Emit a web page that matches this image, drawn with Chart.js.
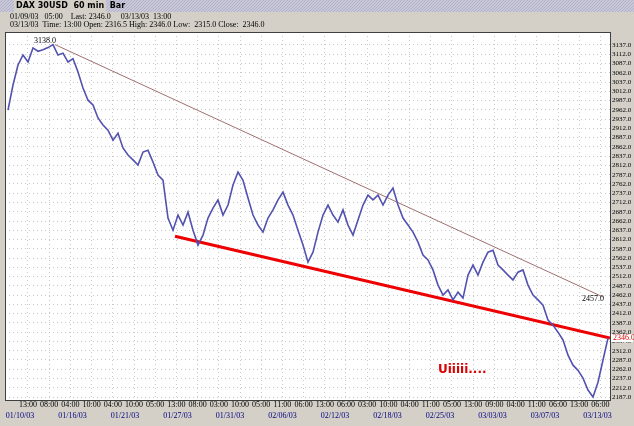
<!DOCTYPE html>
<html>
<head>
<meta charset="utf-8">
<script src="https://cdn.jsdelivr.net/npm/chart.js@4/dist/chart.umd.min.js"></script>
<style>
  body { margin:0; background:#d4d0c8; }
  #wrap { position:relative; width:634px; height:426px; }
</style>
</head>
<body>
<div id="wrap"><canvas id="c" width="634" height="426"></canvas></div>
<script>
// hourly closes, one every ~5 bars
var prices = [2961,3029,3083,3110,3091,3129,3120,3124,3130,3138,3110,3115,3091,3100,3064,3021,2988,2975,2940,2921,
  2907,2880,2899,2859,2840,2827,2813,2848,2853,2821,2786,2772,2670,2637,2678,2651,2686,2637,2597,2624,
  2670,2697,2719,2678,2705,2759,2794,2772,2724,2678,2651,2632,2670,2692,2719,2740,2705,2678,2637,2597,
  2551,2578,2632,2678,2705,2678,2659,2692,2651,2624,2665,2705,2732,2719,2732,2705,2732,2751,2705,2670,
  2651,2632,2605,2570,2557,2530,2489,2462,2476,2449,2470,2454,2516,2543,2516,2551,2578,2583,2543,2530,
  2516,2503,2524,2530,2489,2462,2449,2435,2395,2381,2362,2341,2300,2273,2259,2238,2206,2187,2227,2287,2346];
var upperTrend = [[9.4, 3138], [119, 2457]];
var lowerTrend = [[33.4, 2621], [120.4, 2346]];
var yTicks = [];
for (var v = 2187; v <= 3137; v += 25) yTicks.push(v);
var timeLabels = ['13:00','08:00','04:00','10:00','04:00','10:00','05:00','13:00','08:00','03:00','10:00','05:00','11:00','06:00',
  '13:00','06:00','03:00','10:00','04:00','11:00','05:00','13:00','09:00','04:00','11:00','06:00','13:00','06:00'];
var dateLabels = ['01/10/03','01/16/03','01/21/03','01/27/03','01/31/03','02/06/03','02/12/03','02/18/03','02/25/03','03/03/03','03/07/03','03/13/03'];

function pxToIdx(px) { return (px - 8) / 5; }
var timePos = timeLabels.map(function(t, k){ return pxToIdx(28 + 21.2 * k); });

var extras = {
  id: 'extras',
  beforeDraw: function(chart) {
    var c = chart.ctx, a = chart.chartArea;
    c.save();
    c.fillStyle = '#d4d0c8'; c.fillRect(0, 0, 634, 426);
    // title bar
    c.fillStyle = '#c8c8d8'; c.fillRect(0, 0, 634, 12);
    c.strokeStyle = '#b0b0c8';
    for (var i = -12; i < 634; i += 3) { c.beginPath(); c.moveTo(i, 12); c.lineTo(i + 12, 0); c.stroke(); }
    c.fillStyle = '#d4d0c8'; c.fillRect(14, 0, 92, 12);
    c.fillStyle = '#000'; c.font = 'bold 8px "DejaVu Sans"'; c.textBaseline = 'middle';
    c.fillText('DAX 30USD  60 min  Bar', 16, 6);
    c.font = '8px "Liberation Serif"';
    c.fillText('01/09/03   05:00    Last: 2346.0     03/13/03  13:00', 10, 17);
    c.fillText('03/13/03  Time: 13:00 Open: 2316.5 High: 2346.0 Low:  2315.0 Close:  2346.0', 10, 25);
    c.fillStyle = '#fff'; c.fillRect(a.left, a.top, a.right - a.left, a.bottom - a.top);
    c.restore();
  },
  afterDraw: function(chart) {
    var c = chart.ctx, a = chart.chartArea, x = chart.scales.x, y = chart.scales.y;
    c.save();
    c.strokeStyle = '#404040'; c.lineWidth = 1;
    c.strokeRect(a.left + 0.5, a.top + 0.5, a.right - a.left, a.bottom - a.top);
    c.font = '8px "Liberation Serif"'; c.textBaseline = 'middle'; c.textAlign = 'center';
    c.fillStyle = '#000';
    timeLabels.forEach(function(t, k){ c.fillText(t, x.getPixelForValue(timePos[k]), 405); });
    c.fillStyle = '#000080';
    dateLabels.forEach(function(d, k){ c.fillText(d, 20 + 52.5 * k, 416); });
    c.fillStyle = '#000';
    c.fillText('3138.0', x.getPixelForValue(9.4) - 10, y.getPixelForValue(3138) - 4);
    c.fillText('2457.0', x.getPixelForValue(119) - 10, y.getPixelForValue(2457) + 2);
    c.fillStyle = '#dd0000'; c.font = 'bold 12px "DejaVu Sans"'; c.textAlign = 'left';
    c.fillText('Uiiiii....', 438, 370);
    // last price tag
    c.fillStyle = '#fff'; c.fillRect(a.right + 1, y.getPixelForValue(2346) - 4, 22, 8);
    c.fillStyle = '#dd0000'; c.font = '8px "Liberation Serif"';
    c.fillText('2346.0', a.right + 3, y.getPixelForValue(2346));
    c.restore();
  }
};

new Chart(document.getElementById('c'), {
  type: 'line',
  data: {
    datasets: [
      { data: prices.map(function(p, i){ return {x: i, y: p}; }), borderColor: '#5252b0', borderWidth: 1.6,
        pointRadius: 0, tension: 0 },
      { data: upperTrend.map(function(p){ return {x: p[0], y: p[1]}; }), borderColor: '#a07070', borderWidth: 1, pointRadius: 0 },
      { data: lowerTrend.map(function(p){ return {x: p[0], y: p[1]}; }), borderColor: '#ee0000', borderWidth: 3, pointRadius: 0 }
    ]
  },
  options: {
    responsive: false, animation: false,
    layout: { padding: { top: 32, left: 5, bottom: 26, right: 0 } },
    plugins: { legend: { display: false }, tooltip: { enabled: false } },
    scales: {
      x: { type: 'linear', min: -0.6, max: 120.4,
        afterBuildTicks: function(ax){ ax.ticks = timePos.map(function(v){ return {value: v}; }); },
        afterFit: function(ax){ ax.height = 0; },
        ticks: { display: false }, border: { display: false, dash: [1, 3] },
        grid: { color: '#c8c8c8', drawTicks: false } },
      y: { position: 'right', min: 2179, max: 3172,
        afterBuildTicks: function(ax){ ax.ticks = yTicks.map(function(v){ return {value: v}; }); },
        afterFit: function(ax){ ax.width = 24; },
        ticks: { color: '#000', font: { family: 'Liberation Serif', size: 7 }, padding: 2, autoSkip: false,
          callback: function(v){ return v.toFixed(1); } },
        border: { display: false, dash: [1, 3] },
        grid: { color: '#c8c8c8', drawTicks: false } }
    }
  },
  plugins: [extras]
});
</script>
</body>
</html>
